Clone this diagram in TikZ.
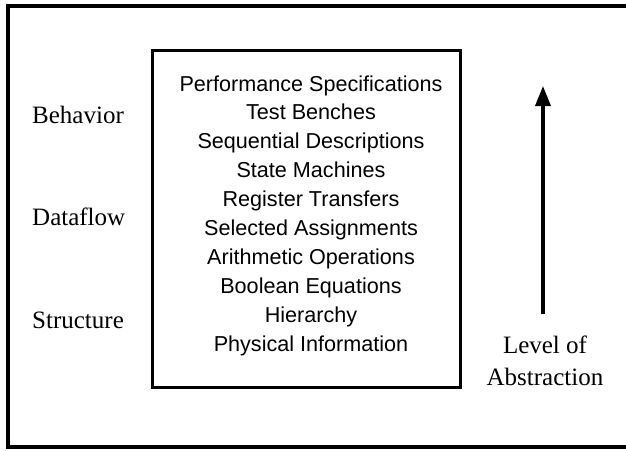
\documentclass[tikz,border=0pt]{standalone}
\usepackage{fontspec}
\setmainfont{Liberation Serif}
\newfontfamily\arialf{Liberation Sans}
\usetikzlibrary{arrows.meta}
\begin{document}
\begin{tikzpicture}[x=1pt,y=-1pt,
  lbl/.style={inner sep=0pt, anchor=base west, font=\fontsize{25}{30}\selectfont},
  rlbl/.style={inner sep=0pt, anchor=base, font=\fontsize{25}{30}\selectfont},
  item/.style={inner sep=0pt, anchor=base, font=\arialf\fontsize{21.6}{26}\selectfont},
  frame/.style={line width=3.5pt},
  boxstyle/.style={draw, line width=3pt, minimum width=308pt, minimum height=337pt, inner sep=0pt},
  up/.style={line width=3.5pt, -{Triangle[length=20pt,width=15pt]}}]
\useasboundingbox (0,0) rectangle (626,450);
\draw[frame] (630,6) -- (8,6) -- (8,447) -- (630,447);
\node[boxstyle] (box) at (306,218.5) {};
\node[item] (t1) at (311,91) {Performance Specifications};
\node[item] (t2) at (311,119.9) {Test Benches};
\node[item] (t3) at (311,148.8) {Sequential Descriptions};
\node[item] (t4) at (311,177.7) {State Machines};
\node[item] (t5) at (311,206.6) {Register Transfers};
\node[item] (t6) at (311,235.5) {Selected Assignments};
\node[item] (t7) at (311,264.4) {Arithmetic Operations};
\node[item] (t8) at (311,293.3) {Boolean Equations};
\node[item] (t9) at (311,322.2) {Hierarchy};
\node[item] (t10) at (311,351) {Physical Information};
\node[lbl] (beh) at (32,123) {Behavior};
\node[lbl] (dat) at (32,225) {Dataflow};
\node[lbl] (str) at (32,328) {Structure};
\node[rlbl] (lev) at (545,353) {Level of};
\node[rlbl] (abs) at (545,385) {Abstraction};
\coordinate (abot) at (543,314);
\coordinate (atop) at (543,86);
\draw[up] (abot) -- (atop);
\end{tikzpicture}
\end{document}
